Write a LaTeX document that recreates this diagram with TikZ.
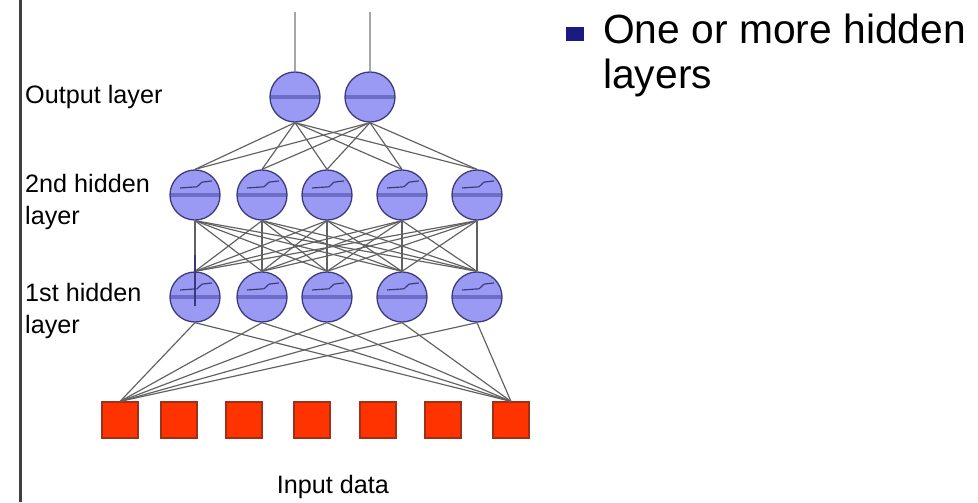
\documentclass[tikz,border=0pt]{standalone}
\usepackage{fontspec}
\setmainfont{Liberation Sans}
\definecolor{cellFill}{HTML}{9A9AF5}
\definecolor{cellLine}{HTML}{3A3A7A}
\definecolor{cellBand}{HTML}{6E6EC8}
\definecolor{inFill}{HTML}{FF3300}
\definecolor{inLine}{HTML}{A03018}
\definecolor{bulletBlue}{HTML}{1A1A80}

\begin{document}
\begin{tikzpicture}[x=0.03cm, y=-0.03cm]
        \tikzstyle{outStyle} = [circle, draw=cellLine, fill=cellFill, line width=1.1pt,
            minimum size=42.7pt, inner sep=0pt,
            path picture={\fill[cellBand] ([yshift=-2pt]path picture bounding box.west)
                rectangle ([yshift=2pt]path picture bounding box.east);}]
        \tikzstyle{hiddenStyle} = [outStyle,
            path picture={\fill[cellBand] ([yshift=-2pt]path picture bounding box.west)
                rectangle ([yshift=2pt]path picture bounding box.east);
                \draw[cellLine, line width=1pt]
                ([xshift=-12.8pt,yshift=6pt]path picture bounding box.center)
                -- ([xshift=1.7pt,yshift=7pt]path picture bounding box.center)
                -- ([xshift=6pt,yshift=11pt]path picture bounding box.center)
                -- ([xshift=14.5pt,yshift=12pt]path picture bounding box.center);}]
        \tikzstyle{inStyle} = [rectangle, draw=inLine, fill=inFill, line width=1pt,
            minimum size=30.7pt, inner sep=0pt]
        \tikzstyle{edgeStyle} = [draw=black!62, line width=1pt]
        \tikzstyle{labelStyle} = [font=\fontsize{21.5}{28}\selectfont, align=left, inner sep=0pt]
        \useasboundingbox (0,0) rectangle (978,502);
        \fill[black!75] (19,0) rectangle (22,502);
        % nodes
        \foreach \n/\x in {1/295, 2/370}
            \node[outStyle] (o\n) at (\x,97) {};
        \foreach \n/\x in {1/195, 2/262, 3/327, 4/402, 5/477}
        {
            \node[hiddenStyle] (b\n) at (\x,195) {};
            \node[hiddenStyle] (a\n) at (\x,297) {};
        }
        \foreach \n/\x in {1/120, 2/179, 3/244, 4/312, 5/378, 6/443, 7/511}
            \node[inStyle] (i\n) at (\x,420) {};
        % connections
        \foreach \from in {1,2}
            \foreach \to in {1,...,5}
                \path[edgeStyle] (o\from.south) edge (b\to.north);
        \foreach \from in {1,...,5}
            \foreach \to in {1,...,5}
                \path[edgeStyle] (b\from.south) edge (a\to.north);
        \foreach \from in {1,...,5}
            \foreach \to in {1,7}
                \path[edgeStyle] (a\from.south) edge (i\to.north);
        \coordinate (t1) at (295,12);
        \coordinate (t2) at (370,12);
        \foreach \n in {1,2}
            \draw[black!35, line width=2.4pt] (t\n) -- (o\n.north);
        \coordinate (k1) at (195,255);
        \coordinate (k2) at (195,306);
        \draw[cellLine, line width=1pt] (k1) -- (k2);
        % labels
        \node[labelStyle, anchor=west] (outLabel) at (25,97) {Output layer};
        \node[labelStyle, anchor=west] (hidBLabel) at (25,202) {2nd hidden\\layer};
        \node[labelStyle, anchor=west] (hidALabel) at (25,311) {1st hidden\\layer};
        \node[labelStyle] (inLabel) at (333,487) {Input data};
        \node[rectangle, fill=bulletBlue, minimum width=15pt, minimum height=12pt, inner sep=0pt] (bullet) at (575,34) {};
        \node[font=\fontsize{34.8}{40}\selectfont, anchor=base west, inner sep=0pt] (point1) at (603,43) {One or more hidden};
        \node[font=\fontsize{34.8}{40}\selectfont, anchor=base west, inner sep=0pt] (point2) at (603,88) {layers};
\end{tikzpicture}
\end{document}
